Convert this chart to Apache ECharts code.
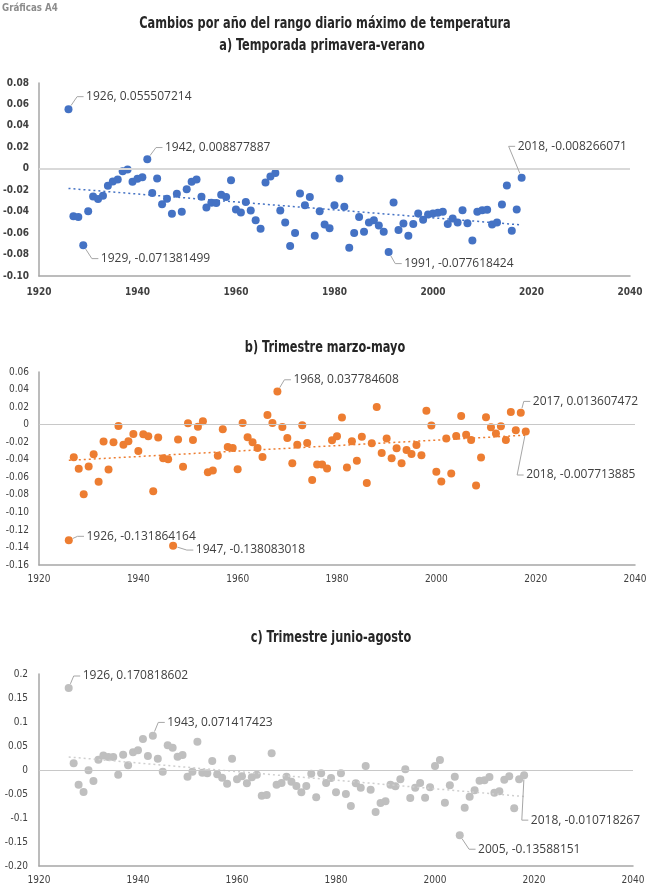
<!DOCTYPE html>
<html><head><meta charset="utf-8">
<script src="https://cdn.jsdelivr.net/npm/echarts@6/dist/echarts.min.js"></script>
<style>html,body{margin:0;padding:0;background:#fff}#c{width:650px;height:888px}</style>
</head><body><div id="c"></div>
<script>
// ---------------- DATA ----------------
const firstYear = 1926;
const lastYear = 2018;

const valuesA = [
 0.055507214, -0.0442, -0.0450, -0.071381499, -0.0395, -0.0258, -0.0283, -0.0252, -0.0159, -0.0118,
 -0.0100, -0.0022, -0.0006, -0.0120, -0.0093, -0.0078, 0.008877887, -0.0227, -0.0090, -0.0330,
 -0.0280, -0.0420, -0.0233, -0.0400, -0.0190, -0.0120, -0.0100, -0.0260, -0.0360, -0.0317,
 -0.0320, -0.0243, -0.0264, -0.0106, -0.0380, -0.0407, -0.0310, -0.0390, -0.0480, -0.0560,
 -0.0127, -0.0072, -0.0040, -0.0390, -0.0500, -0.0720, -0.0600, -0.0230, -0.0340, -0.0264,
 -0.0625, -0.0395, -0.0520, -0.0555, -0.0340, -0.0090, -0.0355, -0.0737, -0.0600, -0.0450,
 -0.0588, -0.0500, -0.0480, -0.0530, -0.0588, -0.077618424, -0.0314, -0.0570, -0.0510, -0.0625,
 -0.0516, -0.0417, -0.0476, -0.0426, -0.0417, -0.0410, -0.0400, -0.0516, -0.0463, -0.0500,
 -0.0386, -0.0507, -0.0670, -0.0400, -0.0386, -0.0382, -0.0520, -0.0500, -0.0333, -0.0155,
 -0.0578, -0.0380, -0.008266071
];
const valuesB = [
 -0.131864164, -0.0372, -0.0504, -0.0793, -0.0478, -0.0338, -0.0652, -0.0193, -0.0512, -0.0200,
 -0.0015, -0.0230, -0.0190, -0.0106, -0.0300, -0.0110, -0.0133, -0.0758, -0.0148, -0.0383,
 -0.0394, -0.138083018, -0.0170, -0.0480, 0.0015, -0.0174, -0.0023, 0.0038, -0.0542, -0.0523,
 -0.0356, -0.0053, -0.0254, -0.0265, -0.0508, 0.0019, -0.0144, -0.0200, -0.0265, -0.0368,
 0.0110, 0.0019, 0.037784608, -0.0027, -0.0152, -0.0440, -0.0228, -0.0008, -0.0209, -0.0630,
 -0.0455, -0.0455, -0.0500, -0.0178, -0.0133, 0.0080, -0.0490, -0.0190, -0.0413, -0.0137,
 -0.0664, -0.0212, 0.0200, -0.0322, -0.0159, -0.0383, -0.0269, -0.0440, -0.0288, -0.0334,
 -0.0231, -0.0349, 0.0159, -0.0011, -0.0538, -0.0648, -0.0159, -0.0557, -0.0129, 0.0099,
 -0.0114, -0.0174, -0.0694, -0.0375, 0.0083, -0.0030, -0.0102, -0.0019, -0.0174, 0.0144,
 -0.0064, 0.013607472, -0.007713885
];
const valuesC = [
 0.170818602, 0.0139, -0.0306, -0.0458, -0.0007, -0.0229, 0.0215, 0.0300, 0.0271, 0.0271,
 -0.0097, 0.0320, 0.0097, 0.0368, 0.0410, 0.0646, 0.0292, 0.071417423, 0.0236, -0.0035,
 0.0514, 0.0465, 0.0278, 0.0313, -0.0139, -0.0035, 0.0590, -0.0056, -0.0069, 0.0188,
 -0.0090, -0.0160, -0.0285, 0.0236, -0.0194, -0.0132, -0.0278, -0.0153, -0.0097, -0.0535,
 -0.0520, 0.0347, -0.0306, -0.0270, -0.0139, -0.0243, -0.0333, -0.0465, -0.0333, -0.0076,
 -0.0569, -0.0069, -0.0270, -0.0167, -0.0465, -0.0069, -0.0500, -0.0750, -0.0278, -0.0368,
 0.0083, -0.0410, -0.0875, -0.0688, -0.0653, -0.0306, -0.0340, -0.0194, 0.0014, -0.0583,
 -0.0368, -0.0270, -0.0576, -0.0361, 0.0083, 0.0208, -0.0680, -0.0319, -0.0139, -0.13588151,
 -0.0785, -0.0556, -0.0424, -0.0222, -0.0215, -0.0146, -0.0472, -0.0444, -0.0201, -0.0132,
 -0.0799, -0.0194, -0.010718267
];

const xTickLabels = ['1920', '1940', '1960', '1980', '2000', '2020', '2040'];
const yLabelsA = ['-0.10', '-0.08', '-0.06', '-0.04', '-0.02', '0', '0.02', '0.04', '0.06', '0.08'];
const yLabelsB = ['-0.16', '-0.14', '-0.12', '-0.10', '-0.08', '-0.06', '-0.04', '-0.02', '0', '0.02', '0.04', '0.06'];
const yLabelsC = ['-0.20', '-0.15', '-0.1', '-0.05', '0', '0.05', '0.1', '0.15', '0.2'];

const labeledYearsA = [1926, 1929, 1942, 1991, 2018];
const labeledYearsB = [1926, 1947, 1968, 2017, 2018];
const labeledYearsC = [1926, 1943, 2005, 2018];

const mainTitle = 'Cambios por año del rango diario máximo de temperatura';
const panelTitles = ['a) Temporada primavera-verano', 'b) Trimestre marzo-mayo', 'c) Trimestre junio-agosto'];
const cornerText = 'Gráficas A4';

// ---------------- LAYOUT / STYLE ----------------
function pickFont(list, weight) {
  const c = document.createElement('canvas').getContext('2d');
  const s = 'abcdefghijklmnopqrstuvwxyzABCDEFGHIJ0123456789';
  for (const f of list) {
    let ok = true;
    for (const base of ['monospace', 'serif']) {
      c.font = `${weight} 40px ${base}`; const w0 = c.measureText(s).width;
      c.font = `${weight} 40px "${f}", ${base}`; const w1 = c.measureText(s).width;
      if (w0 === w1) { ok = false; break; }
    }
    if (ok) return f;
  }
  return 'sans-serif';
}
const condFont = pickFont(['Liberation Sans Narrow', 'DejaVu Sans Condensed', 'Roboto Condensed', 'Open Sans Condensed', 'Roboto'], 'bold');
const textFont = pickFont(['Open Sans', 'Noto Sans', 'Lato'], 'normal');

const panels = [
  { values: valuesA, labels: yLabelsA, labeled: labeledYearsA, color: '#4472C4', trend: '#4472C4',
    grid: { left: 36, right: 20, top: 83, height: 193 }, min: -0.10, max: 0.08, interval: 0.02,
    zeroColor: '#d9d9d9', zeroWidth: 2, axisWeight: 'bold', axisSize: 10,
    offsets: { 1926: [17.6, -12.6], 1929: [17.6, 13.3], 1942: [17.7, -11.7], 1991: [15.6, 11.6], 2018: [-4, -31.3] } },
  { values: valuesB, labels: yLabelsB, labeled: labeledYearsB, color: '#ED7D31', trend: '#ED7D31',
    grid: { left: 39, right: 15, top: 372, height: 193 }, min: -0.16, max: 0.06, interval: 0.02,
    zeroColor: '#c8c8c8', zeroWidth: 1.2, axisWeight: 'normal', axisSize: 10,
    offsets: { 1926: [17.7, -4], 1947: [22.7, 4.3], 1968: [16, -11.7], 2017: [12, -11.3], 2018: [0.4, 43.6] } },
  { values: valuesC, labels: yLabelsC, labeled: labeledYearsC, color: '#BFBFBF', trend: '#cfcfcf',
    grid: { left: 39, right: 17, top: 674, height: 192 }, min: -0.20, max: 0.20, interval: 0.05,
    zeroColor: '#c8c8c8', zeroWidth: 1.2, axisWeight: 'normal', axisSize: 10,
    offsets: { 1926: [14, -12], 1943: [14.4, -13.3], 2005: [18.3, 14], 2018: [6.7, 45] } }
];
const titleY = [46, 348, 638];
const titleX = [322, 325, 331];
const titleScaleX = 0.84;

function regression(vals) {
  const n = vals.length; let sx = 0, sy = 0, sxx = 0, sxy = 0;
  vals.forEach((v, i) => { const x = firstYear + i; sx += x; sy += v; sxx += x * x; sxy += x * v; });
  const b = (n * sxy - sx * sy) / (n * sxx - sx * sx); const a = (sy - b * sx) / n;
  return [[firstYear, a + b * firstYear], [lastYear, a + b * lastYear]];
}

const grids = [], xAxes = [], yAxes = [], series = [];
panels.forEach((p, i) => {
  grids.push(Object.assign({}, p.grid));
  xAxes.push({
    type: 'value', gridIndex: i, min: 1920, max: 2040, interval: 20,
    axisLine: { show: true, onZero: false, lineStyle: { color: '#a6a6a6', width: 1.5 } },
    axisTick: { show: false }, splitLine: { show: false },
    axisLabel: { color: '#404040', fontSize: p.axisSize, fontWeight: p.axisWeight, fontFamily: condFont, margin: i === 0 ? 11 : 9,
      formatter: v => xTickLabels[Math.round((v - 1920) / 20)] }
  });
  yAxes.push({
    type: 'value', gridIndex: i, min: p.min, max: p.max, interval: p.interval,
    axisLine: { show: true, onZero: false, lineStyle: { color: '#a6a6a6', width: 1.5 } },
    axisTick: { show: false }, splitLine: { show: false },
    axisLabel: { color: '#404040', fontSize: p.axisSize, fontWeight: p.axisWeight, fontFamily: condFont, margin: i === 2 ? 11 : 10,
      formatter: v => p.labels[Math.round((v - p.min) / p.interval)] }
  });
  series.push({
    type: 'scatter', xAxisIndex: i, yAxisIndex: i, symbolSize: 8, z: 3,
    itemStyle: { color: p.color, opacity: 1 },
    data: p.values.map((v, k) => [firstYear + k, v]),
    markLine: { silent: true, symbol: ['none', 'none'], label: { show: false }, animation: false,
      lineStyle: { color: p.zeroColor, width: p.zeroWidth, type: 'solid' }, data: [{ yAxis: 0 }] }
  });
  series.push({
    type: 'line', xAxisIndex: i, yAxisIndex: i, showSymbol: false, symbol: 'none', z: 4, silent: true,
    lineStyle: { color: p.trend, width: 1.5, type: [2, 3] },
    data: regression(p.values)
  });
});

const graphics = [
  { type: 'text', x: 2, y: 8, scaleX: 0.88, style: { text: cornerText, font: `bold 11px "${condFont}"`, fill: '#8c8c8c', textVerticalAlign: 'middle' } },
  { type: 'text', x: 325, y: 24, scaleX: titleScaleX, style: { text: mainTitle, font: `bold 15px "${condFont}"`, fill: '#262626', textAlign: 'center', textVerticalAlign: 'middle' } }
];
panelTitles.forEach((t, i) => graphics.push({ type: 'text', x: titleX[i], y: titleY[i], scaleX: titleScaleX,
  style: { text: t, font: `bold 15px "${condFont}"`, fill: '#262626', textAlign: 'center', textVerticalAlign: 'middle' } }));

const chart = echarts.init(document.getElementById('c'), null, { renderer: 'canvas', width: 650, height: 888 });
chart.setOption({ animation: false, backgroundColor: '#fff', grid: grids, xAxis: xAxes, yAxis: yAxes, series: series, graphic: graphics });

// data labels with leader lines, positioned from the library's own pixel conversion
panels.forEach((p, i) => {
  p.labeled.forEach(year => {
    const v = p.values[year - firstYear];
    const [cx, cy] = chart.convertToPixel({ gridIndex: i }, [year, v]);
    const off = p.offsets[year];
    const tx = cx + off[0], ty = cy + off[1];
    const corner = [tx - 9, ty], end = [tx - 2.5, ty];
    const dx = corner[0] - cx, dy = corner[1] - cy, d = Math.hypot(dx, dy);
    const start = [cx + dx / d * 4.5, cy + dy / d * 4.5];
    graphics.push({ type: 'polyline', z: 10, silent: true, shape: { points: [start, corner, end] },
      style: { stroke: '#a6a6a6', lineWidth: 1, fill: null } });
    graphics.push({ type: 'text', z: 10, x: tx, y: ty, silent: true,
      style: { text: year + ', ' + v, font: `12px "${textFont}"`, fill: '#404040', textVerticalAlign: 'middle' } });
  });
});
chart.setOption({ graphic: graphics });
</script></body></html>
